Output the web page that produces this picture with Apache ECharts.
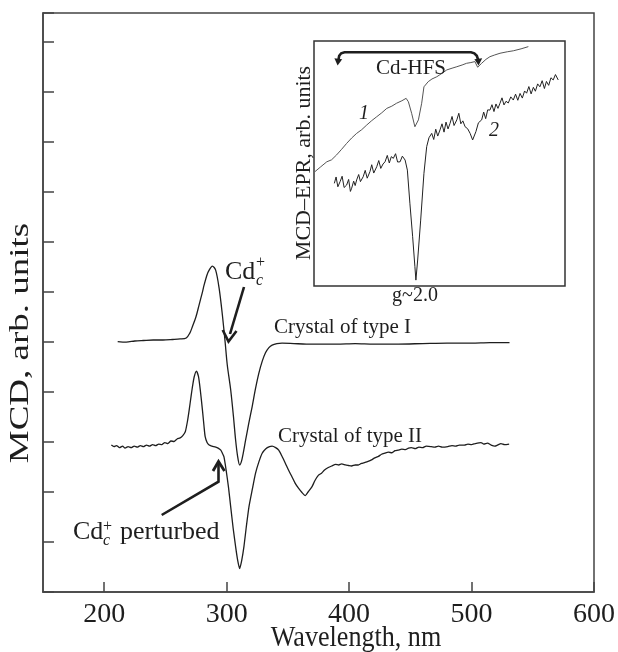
<!DOCTYPE html>
<html>
<head>
<meta charset="utf-8">
<script src="https://cdn.jsdelivr.net/npm/echarts/dist/echarts.min.js"></script>
<style>
  html, body { margin: 0; padding: 0; background: #fff; }
  #chart { width: 618px; height: 652px; }
</style>
</head>
<body>
<div id="chart"></div>
<script>
// ---------- Main panel: MCD spectra ----------
const typeI_wl = [211, 218, 225, 232, 240, 248, 256, 262, 267, 270, 272, 275, 277.5, 280, 281.6, 284, 285.7, 288.3, 291, 293.8, 296.5, 298.7, 300.5, 303.3, 305.5, 307.3, 309, 310.6, 312.5, 315.5, 318, 320.8, 323.5, 326.3, 329, 331.7, 334.5, 337.1, 341, 345.2, 355, 365, 375, 390, 405, 420, 440, 460, 480, 500, 515, 531];
const typeI_mcd = [4.91, 4.90, 4.92, 4.93, 4.94, 4.94, 4.95, 4.96, 4.98, 5.08, 5.20, 5.40, 5.63, 5.86, 6.02, 6.22, 6.31, 6.39, 6.31, 5.96, 5.43, 4.91, 4.45, 3.96, 3.45, 2.98, 2.65, 2.49, 2.60, 2.98, 3.30, 3.63, 3.98, 4.29, 4.52, 4.69, 4.79, 4.84, 4.87, 4.88, 4.87, 4.86, 4.86, 4.86, 4.87, 4.86, 4.86, 4.87, 4.88, 4.88, 4.89, 4.89];

const typeII_wl = [205.8, 208, 210, 212.5, 215, 217, 219.5, 222, 224.5, 227, 229.5, 232, 234.5, 237, 239.5, 242, 244.5, 247, 249.5, 252, 254.5, 257, 259.5, 262, 264, 266.2, 268, 269.4, 271, 272.1, 273.5, 275.3, 277, 278.5, 280.2, 281.5, 282.4, 284, 285.7, 288, 291.1, 293, 295.2, 296.5, 297.8, 299.5, 301.5, 303.3, 305.3, 307.3, 309, 310.6, 312.3, 314.1, 316, 318.2, 321, 323.6, 326.3, 329, 332, 335, 337.1, 340, 342.5, 345, 348, 350.5, 353.3, 356, 358.8, 361.5, 364.2, 366.5, 369.6, 372, 375, 377.5, 379.9, 383, 385.8, 389, 391.5, 393.9, 397, 399.4, 402, 405, 407.5, 410, 413, 415.5, 418.3, 421, 424, 426.5, 429.2, 432, 435, 437.5, 440, 443, 446, 448.5, 450.8, 454, 457, 460, 463, 467.1, 470, 473, 476, 480.6, 484, 487, 490, 494.2, 497, 500, 503, 507.7, 510, 513, 516, 519, 521.2, 524, 527, 530.7];
const typeII_mcd = [2.88, 2.85, 2.87, 2.83, 2.86, 2.82, 2.85, 2.83, 2.86, 2.84, 2.87, 2.85, 2.88, 2.86, 2.89, 2.87, 2.90, 2.89, 2.93, 2.91, 2.96, 2.95, 3.00, 3.02, 3.06, 3.14, 3.35, 3.57, 3.85, 4.03, 4.22, 4.33, 4.22, 3.95, 3.57, 3.25, 3.05, 2.93, 2.88, 2.86, 2.84, 2.82, 2.78, 2.72, 2.65, 2.40, 2.05, 1.67, 1.25, 0.89, 0.62, 0.46, 0.62, 0.89, 1.27, 1.67, 2.02, 2.33, 2.55, 2.72, 2.81, 2.85, 2.86, 2.83, 2.78, 2.67, 2.52, 2.39, 2.26, 2.13, 2.03, 1.95, 1.89, 1.96, 2.06, 2.18, 2.29, 2.33, 2.39, 2.44, 2.47, 2.50, 2.49, 2.51, 2.49, 2.48, 2.47, 2.49, 2.49, 2.52, 2.54, 2.56, 2.59, 2.63, 2.66, 2.70, 2.72, 2.74, 2.73, 2.77, 2.78, 2.80, 2.79, 2.82, 2.83, 2.81, 2.84, 2.83, 2.86, 2.85, 2.84, 2.86, 2.84, 2.85, 2.87, 2.86, 2.88, 2.88, 2.90, 2.89, 2.91, 2.93, 2.90, 2.92, 2.88, 2.86, 2.88, 2.91, 2.89, 2.90];

// ---------- Inset: MCD-EPR ----------
const epr1_field = [0.4, 2.5, 5.1, 7, 9.0, 11, 13.0, 15, 17.0, 19, 21.0, 23, 25.0, 27, 29.0, 31, 32.9, 35, 36.7, 37.6, 38.9, 40.2, 41.6, 42.9, 43.8, 45.5, 47, 48.9, 51, 52.9, 55, 56.9, 59, 60.8, 62.5, 64.1, 65.2, 66.8, 68.5, 70.1, 72, 74.1, 77, 79.4, 82.5, 85.4];
const epr1_signal = [46.7, 48.5, 50.7, 51.5, 53.5, 55.8, 58.2, 60.4, 62.3, 63.8, 65.7, 67.5, 69.1, 70.7, 72.5, 73.4, 74.6, 75.6, 76.6, 75.2, 70.5, 65.0, 67.8, 74.6, 81.3, 83.4, 84.5, 85.4, 86.8, 88.2, 88.9, 89.5, 90.2, 90.9, 91.2, 91.6, 89.3, 90.9, 92.5, 93.6, 94.3, 95.0, 95.6, 96.0, 96.8, 97.7];

const epr2_field = [8.1, 8.8, 9.5, 10.4, 11.2, 12.0, 13.0, 13.8, 14.5, 15.0, 15.8, 16.4, 17.0, 17.8, 18.5, 19.6, 20.4, 21.2, 22.3, 23.0, 23.8, 25.0, 25.8, 26.6, 27.5, 28.3, 29.2, 30.0, 30.8, 31.6, 32.5, 33.3, 34.3, 35.2, 36.3, 37.2, 38.2, 39.3, 40.2, 40.6, 41.3, 42.5, 43.8, 44.9, 45.8, 46.9, 47.7, 48.5, 49.3, 50.2, 51.0, 51.8, 52.6, 53.4, 54.2, 55.0, 55.8, 56.9, 57.7, 58.5, 59.3, 60.2, 61.2, 62.2, 63.2, 64.5, 65.5, 66.8, 67.6, 68.4, 69.2, 70.1, 70.9, 71.7, 72.5, 73.3, 74.1, 74.9, 75.7, 76.5, 77.4, 78.4, 79.4, 80.3, 81.2, 82.1, 83.0, 83.9, 84.7, 85.6, 86.5, 87.4, 88.2, 89.1, 90.0, 90.9, 91.8, 92.6, 93.5, 94.4, 95.3, 96.2, 97.3];
const epr2_signal = [41.9, 44.5, 40.5, 42.6, 44.8, 40.2, 41.2, 43.5, 38.6, 39.9, 42.8, 41.0, 43.3, 45.5, 42.6, 44.6, 47.2, 44.0, 46.7, 49.5, 46.1, 48.7, 51.2, 48.0, 49.8, 50.7, 53.3, 50.2, 52.8, 52.1, 54.0, 50.6, 50.7, 53.0, 51.4, 47.3, 33.8, 20.1, 7.9, 2.4, 10.6, 26.9, 46.0, 56.9, 60.5, 62.3, 59.8, 64.0, 61.2, 63.7, 66.2, 62.8, 66.9, 64.1, 66.4, 69.2, 65.5, 67.8, 70.5, 66.2, 67.4, 65.0, 64.2, 62.3, 59.6, 63.0, 66.6, 67.8, 71.0, 68.3, 71.9, 71.8, 74.0, 71.2, 74.3, 72.5, 74.6, 76.8, 73.9, 75.4, 74.7, 77.2, 75.9, 78.3, 75.8, 78.6, 76.7, 79.6, 78.7, 81.4, 78.4, 81.1, 79.5, 82.5, 81.3, 83.8, 80.6, 83.5, 81.9, 85.0, 84.1, 86.3, 84.1];

// Tick/axis text
const xTitle = 'Wavelength, nm';
const yTitle = 'MCD, arb. units';
const insetYTitle = 'MCD\u2013EPR, arb. units';
const insetXTitle = 'g~2.0';

const zip = (a, b) => a.map((v, i) => [v, b[i]]);
const SERIF = '"Liberation Serif", "Times New Roman", serif';
const INK = '#1e1e1e';

const chart = echarts.init(document.getElementById('chart'), null, { renderer: 'canvas' });

function txt(text, x, y, size, opts) {
  opts = opts || {};
  return {
    type: 'text', x: x, y: y, z: 100,
    rotation: opts.rotation || 0,
    scaleX: opts.scaleX || 1, scaleY: opts.scaleY || 1,
    style: {
      text: text, fill: INK, font: (opts.italic ? 'italic ' : '') + size + 'px ' + SERIF,
      textAlign: opts.align || 'left', textVerticalAlign: 'middle'
    }
  };
}
function pl(points, w) {
  return { type: 'polyline', z: 100, shape: { points: points },
    style: { stroke: INK, lineWidth: w || 2.6, fill: null, lineJoin: 'miter', lineCap: 'butt' } };
}
function tri(points) {
  return { type: 'polygon', z: 100, shape: { points: points }, style: { fill: INK, stroke: null } };
}

const option = {
  backgroundColor: '#fff',
  animation: false,
  grid: [
    { left: 43, top: 13, width: 554, height: 579, show: true, borderColor: '#444', borderWidth: 1.5, backgroundColor: 'transparent' },
    { left: 314, top: 41, width: 251, height: 245, show: true, borderColor: '#333', borderWidth: 1.5, backgroundColor: 'transparent' }
  ],
  xAxis: [
    {
      gridIndex: 0, type: 'value', min: 150, max: 600,
      axisLine: { show: true, lineStyle: { color: '#444', width: 1.5 } },
      axisTick: { show: true, inside: true, length: 10, lineStyle: { color: '#444', width: 1.5 } },
      axisLabel: { show: true, fontSize: 28, fontFamily: SERIF, color: INK, margin: 9, showMinLabel: false,
        formatter: v => (v === 150 ? '' : String(v)) },
      splitLine: { show: false }
    },
    { gridIndex: 1, type: 'value', min: 0, max: 100, show: false }
  ],
  yAxis: [
    {
      gridIndex: 0, type: 'value', min: 0, max: 11.35, interval: 0.98,
      axisLine: { show: true, lineStyle: { color: '#444', width: 1.5 } },
      axisTick: { show: true, inside: true, length: 11, lineStyle: { color: '#444', width: 1.5 } },
      axisLabel: { show: false },
      splitLine: { show: false }
    },
    { gridIndex: 1, type: 'value', min: 0, max: 100, show: false }
  ],
  series: [
    { name: 'Crystal of type I', type: 'line', xAxisIndex: 0, yAxisIndex: 0, data: zip(typeI_wl, typeI_mcd),
      showSymbol: false, smooth: 0.3, lineStyle: { color: INK, width: 1.3 } },
    { name: 'Crystal of type II', type: 'line', xAxisIndex: 0, yAxisIndex: 0, data: zip(typeII_wl, typeII_mcd),
      showSymbol: false, smooth: 0.2, lineStyle: { color: INK, width: 1.3 } },
    { name: '1', type: 'line', xAxisIndex: 1, yAxisIndex: 1, data: zip(epr1_field, epr1_signal),
      showSymbol: false, lineStyle: { color: '#555', width: 1 } },
    { name: '2', type: 'line', xAxisIndex: 1, yAxisIndex: 1, data: zip(epr2_field, epr2_signal),
      showSymbol: false, lineStyle: { color: '#222', width: 1 } }
  ],
  graphic: [
    // axis titles
    txt(xTitle, 356, 638, 29, { align: 'center', scaleX: 0.9 }),
    txt(yTitle, 21, 343, 37, { align: 'center', rotation: Math.PI / 2, scaleY: 0.75 }),
    // curve labels
    txt('Crystal of type I', 274, 327, 21),
    txt('Crystal of type II', 278, 436, 21),
    // Cd_c^+ (top)
    txt('Cd', 225, 272, 26),
    txt('c', 256, 281, 16, { italic: true }),
    txt('+', 256, 263, 16),
    pl([[244, 287], [230, 334]], 2.6),
    pl([[222.7, 330], [228.5, 341.5], [236.5, 331]], 2.6),
    // Cd_c^+ perturbed (bottom)
    txt('Cd', 73, 532, 26),
    txt('c', 103, 541, 16, { italic: true }),
    txt('+', 103, 527, 16),
    txt('perturbed', 120, 532, 26),
    pl([[161.7, 515], [218.5, 481.7], [218.5, 464]], 2.6),
    pl([[213, 471], [218.5, 461.5], [224.5, 471]], 2.8),
    // inset labels
    txt(insetYTitle, 304, 163, 22, { align: 'center', rotation: Math.PI / 2 }),
    txt(insetXTitle, 415, 295.5, 20, { align: 'center' }),
    txt('Cd-HFS', 411, 68.5, 21, { align: 'center' }),
    txt('1', 364, 114, 20, { align: 'center', italic: true }),
    txt('2', 494, 131, 20, { align: 'center', italic: true }),
    pl([[338.4, 60], [339.2, 55.8], [341.2, 53.3], [344.5, 52.3], [471, 52.3], [474.3, 53.3], [476.8, 55.8], [478.2, 60]], 2.6),
    tri([[337.6, 65.5], [334.4, 58.3], [342.2, 59.2]]),
    tri([[478.6, 65.5], [474.4, 59.2], [482.2, 58.3]])
  ]
};
chart.setOption(option);
</script>
</body>
</html>
